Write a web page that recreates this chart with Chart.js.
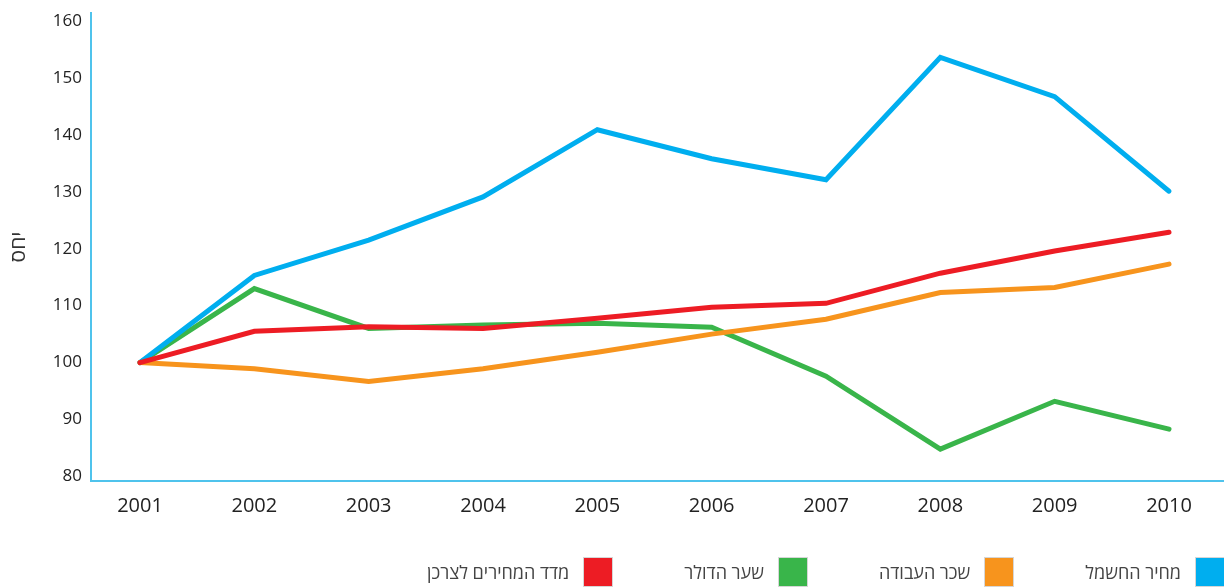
<!DOCTYPE html>
<html lang="he">
<head>
<meta charset="utf-8">
<script src="https://cdn.jsdelivr.net/npm/chart.js@4.4.1/dist/chart.umd.min.js"></script>
<style>
  html, body { margin: 0; padding: 0; background: #fff; }
  #wrap { position: relative; width: 1224px; height: 587px; overflow: hidden; }
  #legend {
    position: absolute; right: -1px; top: 557px;
    display: flex; flex-direction: row; direction: rtl;
    font-family: "Open Sans", "Liberation Sans", sans-serif; font-size: 18px; color: #444;
  }
  .item { display: flex; align-items: center; margin-left: 71px; height: 30px; }
  .box { width: 28px; height: 28px; border: 1px solid #d6d6d6; margin-left: 14px; }
</style>
</head>
<body>
<div id="wrap">
  <canvas id="grafico" width="1224" height="587"></canvas>
  <div id="legend"></div>
</div>
<script>
// datos
var years = [2001, 2002, 2003, 2004, 2005, 2006, 2007, 2008, 2009, 2010];
var yTicks = [80, 90, 100, 110, 120, 130, 140, 150, 160];

var electricity = [100, 115.3, 121.5, 129.1, 140.9, 135.8, 132.1, 153.6, 146.7, 130.1];
var wages       = [100, 98.9, 96.7, 98.9, 101.8, 105.0, 107.6, 112.3, 113.2, 117.3];
var dollar      = [100, 113.0, 106.0, 106.6, 106.9, 106.2, 97.6, 84.8, 93.2, 88.3];
var cpi         = [100, 105.5, 106.3, 106.0, 107.8, 109.7, 110.4, 115.7, 119.6, 122.9];

var seriesNames = ['מחיר החשמל', 'שכר העבודה', 'שער הדולר', 'מדד המחירים לצרכן'];
var seriesColors = ['#00aeef', '#f7941d', '#39b54a', '#ed1c24'];
var seriesData = [electricity, wages, dollar, cpi];

var axisColor = '#4fc3ec';

function puntos(valores) {
    return valores.map(function (v, i) { return { x: years[i], y: v }; });
}

// rojo encima, luego naranja, azul, verde
var drawOrder = [3, 1, 0, 2];
var datasets = drawOrder.map(function (k) {
    return {
        label: seriesNames[k],
        data: puntos(seriesData[k]),
        borderColor: seriesColors[k],
        backgroundColor: seriesColors[k],
        borderWidth: 5,
        pointRadius: 0,
        tension: 0,
        borderCapStyle: 'round'
    };
});

var ctx = document.getElementById('grafico');
var mychart = new Chart(ctx, {
    type: 'line',
    data: { datasets: datasets },
    options: {
        responsive: false,
        animation: false,
        layout: { padding: { top: 13, right: 0, left: 0, bottom: 0 } },
        plugins: { legend: { display: false }, tooltip: { enabled: false } },
        scales: {
            x: {
                type: 'linear',
                min: 2000.5714,
                max: 2010.481,
                grid: { display: false },
                border: { display: true, color: axisColor, width: 2 },
                afterBuildTicks: function (scale) {
                    scale.ticks = years.map(function (y) { return { value: y }; });
                },
                afterFit: function (scale) { scale.height = 106; },
                ticks: {
                    padding: 5,
                    color: '#222',
                    font: { family: 'Open Sans', size: 20 },
                    callback: function (v) { return String(v); }
                }
            },
            y: {
                type: 'linear',
                min: 79.2,
                max: 161.4,
                grid: { display: false },
                border: { display: true, color: axisColor, width: 2 },
                afterBuildTicks: function (scale) {
                    scale.ticks = yTicks.map(function (v) { return { value: v }; });
                },
                afterFit: function (scale) { scale.width = 91; },
                title: {
                    display: true,
                    text: 'יחס',
                    color: '#333',
                    font: { family: 'Open Sans', size: 21 },
                    padding: { top: 6, bottom: 0 }
                },
                ticks: {
                    padding: 1,
                    color: '#222',
                    font: { family: 'Open Sans', size: 17 }
                }
            }
        }
    }
});

// leyenda en html, de derecha a izquierda
var legend = document.getElementById('legend');
seriesNames.forEach(function (name, i) {
    var item = document.createElement('div');
    item.className = 'item';
    var box = document.createElement('div');
    box.className = 'box';
    box.style.background = seriesColors[i];
    var txt = document.createElement('span');
    txt.textContent = name;
    item.appendChild(box);
    item.appendChild(txt);
    legend.appendChild(item);
});
</script>
</body>
</html>
